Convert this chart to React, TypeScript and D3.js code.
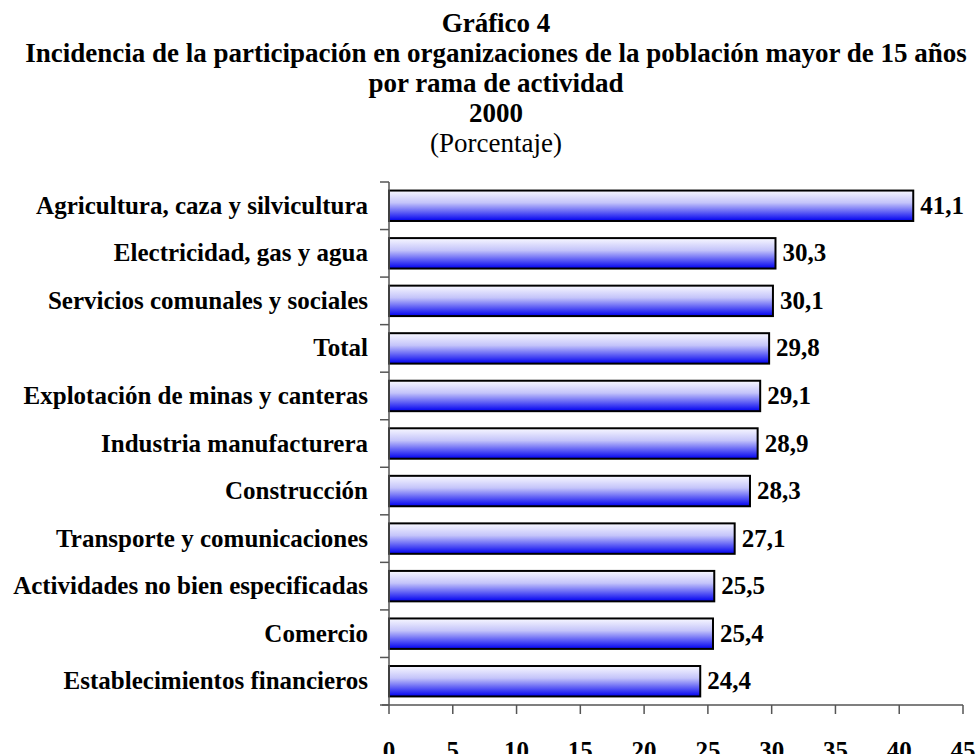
import React from 'react';
import * as d3 from 'd3';

const categories = [
  'Agricultura, caza y silvicultura',
  'Electricidad, gas y agua',
  'Servicios comunales y sociales',
  'Total',
  'Explotación de minas y canteras',
  'Industria manufacturera',
  'Construcción',
  'Transporte y comunicaciones',
  'Actividades no bien especificadas',
  'Comercio',
  'Establecimientos financieros',
];
const values = [41.1, 30.3, 30.1, 29.8, 29.1, 28.9, 28.3, 27.1, 25.5, 25.4, 24.4];
const xTicks = [0, 5, 10, 15, 20, 25, 30, 35, 40, 45];
const titleLines = [
  'Gráfico 4',
  'Incidencia de la participación en organizaciones de la población mayor de 15 años',
  'por rama de actividad',
  '2000',
];

const W = 979;
const H = 754;
const left = 389;
const right = 963;
const top = 182;
const bottom = 705;
const font = '"Liberation Serif", "Times New Roman", serif';

export default function App() {
  const x = d3.scaleLinear().domain([0, 45]).range([left, right]);
  const y = d3.scaleBand<string>().domain(categories).range([top, bottom]).paddingInner(0.36).paddingOuter(0.18);
  const step = y.step();
  const fmt = (v: number) => v.toFixed(1).replace('.', ',');

  return (
    <svg width={W} height={H} style={{ position: 'absolute', left: 0, top: 0 }} fontFamily={font}>
      <defs>
        <linearGradient id="barGrad" x1="0" y1="0" x2="0" y2="1">
          <stop offset="0%" stopColor="#f8f8ff" />
          <stop offset="40%" stopColor="#c4c4fa" />
          <stop offset="100%" stopColor="#0000f0" />
        </linearGradient>
      </defs>
      <rect width={W} height={H} fill="#fff" />
      {titleLines.map((t, i) => (
        <text key={i} x={496} y={32 + i * 30} textAnchor="middle" fontWeight="bold" fontSize={27}>
          {t}
        </text>
      ))}
      <text x={496} y={152} textAnchor="middle" fontSize={27}>(Porcentaje)</text>

      {categories.map((c, i) => (
        <g key={c}>
          <rect
            x={x(0)}
            y={y(c)!}
            width={x(values[i]) - x(0)}
            height={y.bandwidth()}
            fill="url(#barGrad)"
            stroke="#000"
            strokeWidth={2}
          />
          <text x={x(values[i]) + 7} y={y(c)! + y.bandwidth() / 2 + 8} fontWeight="bold" fontSize={25}>
            {fmt(values[i])}
          </text>
          <text x={368} y={y(c)! + y.bandwidth() / 2 + 8} textAnchor="end" fontWeight="bold" fontSize={25}>
            {c}
          </text>
        </g>
      ))}

      {/* y axis */}
      <line x1={left} x2={left} y1={top} y2={bottom} stroke="#555" strokeWidth={1.5} />
      {d3.range(categories.length + 1).map((i) => (
        <line key={i} x1={left - 9} x2={left} y1={top + i * step} y2={top + i * step} stroke="#555" strokeWidth={1.5} />
      ))}

      {/* x axis */}
      <line x1={left - 7} x2={right} y1={bottom} y2={bottom} stroke="#555" strokeWidth={1.5} />
      {xTicks.map((t) => (
        <g key={t}>
          <line x1={x(t)} x2={x(t)} y1={bottom} y2={bottom + 9} stroke="#555" strokeWidth={1.5} />
          <text x={x(t)} y={759} textAnchor="middle" fontWeight="bold" fontSize={25}>
            {t}
          </text>
        </g>
      ))}
    </svg>
  );
}
